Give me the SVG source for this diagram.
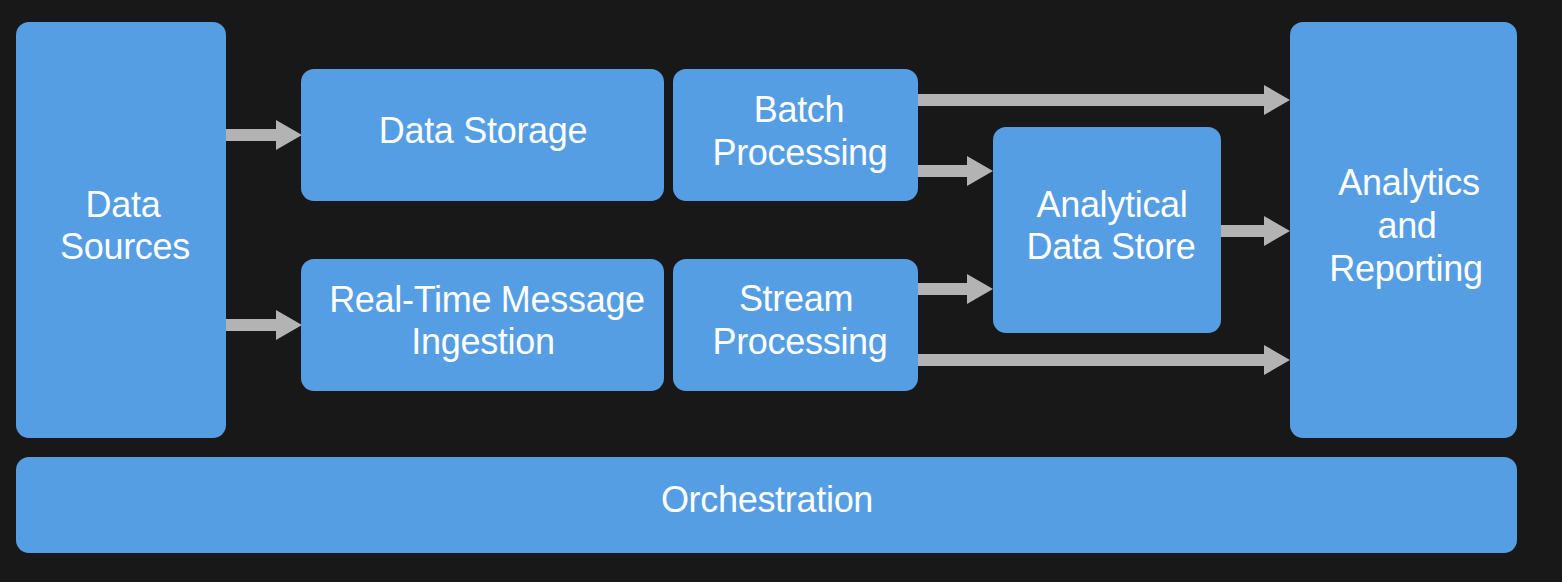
<svg xmlns="http://www.w3.org/2000/svg" width="1562" height="582" viewBox="0 0 1562 582">
<defs>
<style>
.box{fill:#569ee3;}
.lbl{fill:#ffffff;font-family:"Liberation Sans",Arial,sans-serif;font-size:36px;text-anchor:middle;letter-spacing:-0.3px;}
.arr{fill:#b3b3b3;}
</style>
</defs>
<rect width="1562" height="582" fill="#181818"/>
<g id="connectors">
<polygon class="arr" points="226,129 276,129 276,120 302,135 276,150 276,141 226,141"/>
<polygon class="arr" points="226,319 276,319 276,310 302,325 276,340 276,331 226,331"/>
<polygon class="arr" points="918,94 1264,94 1264,85 1290,100 1264,115 1264,106 918,106"/>
<polygon class="arr" points="918,165 967,165 967,156 993,171 967,186 967,177 918,177"/>
<polygon class="arr" points="1221,225 1264,225 1264,216 1290,231 1264,246 1264,237 1221,237"/>
<polygon class="arr" points="918,283 967,283 967,274 993,289 967,304 967,295 918,295"/>
<polygon class="arr" points="918,354 1264,354 1264,345 1290,360 1264,375 1264,366 918,366"/>
</g>
<g id="data-sources">
<rect class="box" x="16" y="22" width="210" height="416" rx="13"/>
<text class="lbl" x="123" y="217">Data</text>
<text class="lbl" x="125" y="259">Sources</text>
</g>
<g id="data-storage">
<rect class="box" x="301" y="69" width="363" height="132" rx="13"/>
<text class="lbl" x="483" y="143">Data Storage</text>
</g>
<g id="batch-processing">
<rect class="box" x="673" y="69" width="245" height="132" rx="13"/>
<text class="lbl" x="799" y="122">Batch</text>
<text class="lbl" x="800" y="165">Processing</text>
</g>
<g id="real-time-ingestion">
<rect class="box" x="301" y="259" width="363" height="132" rx="13"/>
<text class="lbl" x="487" y="312">Real-Time Message</text>
<text class="lbl" x="483" y="354">Ingestion</text>
</g>
<g id="stream-processing">
<rect class="box" x="673" y="259" width="245" height="132" rx="13"/>
<text class="lbl" x="796" y="311">Stream</text>
<text class="lbl" x="800" y="354">Processing</text>
</g>
<g id="analytical-data-store">
<rect class="box" x="993" y="127" width="228" height="206" rx="13"/>
<text class="lbl" x="1112" y="217">Analytical</text>
<text class="lbl" x="1111" y="259">Data Store</text>
</g>
<g id="analytics-reporting">
<rect class="box" x="1290" y="22" width="227" height="416" rx="13"/>
<text class="lbl" x="1409" y="195">Analytics</text>
<text class="lbl" x="1407" y="238">and</text>
<text class="lbl" x="1406" y="281">Reporting</text>
</g>
<g id="orchestration">
<rect class="box" x="16" y="457" width="1501" height="96" rx="13"/>
<text class="lbl" x="767" y="512">Orchestration</text>
</g>
</svg>
